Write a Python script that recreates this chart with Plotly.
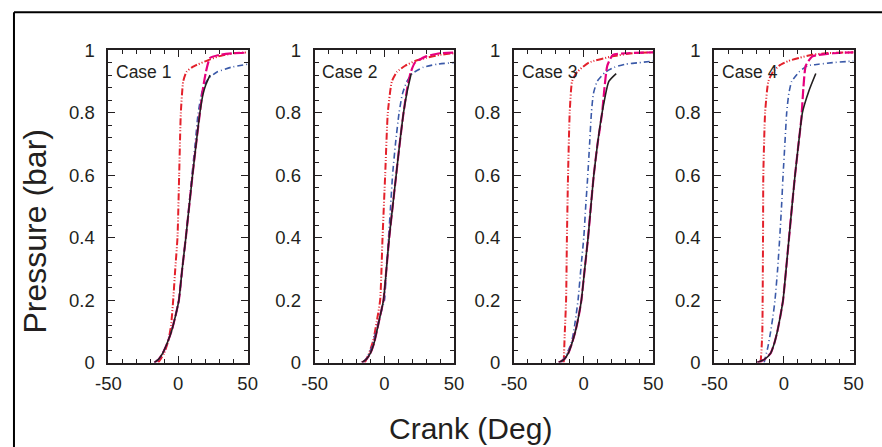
import plotly.graph_objects as go

# Figure size / offsets chosen so the photographed picture lines up with the reference
W, H = 898, 458
OFF = 8           # page body margin
SX, AX = 0.973, 3.9
SY, AY = 0.959, 1.0

cases = ["Case 1", "Case 2", "Case 3", "Case 4"]

# ---- Case 1 ----
c1_black_x = [-17, -14, -11, -8, -4.7, -1.8, 0.6, 3, 5.6, 8, 10.4, 13, 15.7, 18, 20, 23]
c1_black_y = [0, 0.01, 0.03, 0.06, 0.1, 0.15, 0.2, 0.3, 0.4, 0.5, 0.6, 0.7, 0.8, 0.86, 0.89, 0.92]
c1_blue_x = [-17, -14, -11, -8, -4.7, -1.8, 0.6, 3, 5.6, 7.8, 10, 12.3, 14.5, 18, 22, 28, 38, 50]
c1_blue_y = [0, 0.01, 0.03, 0.06, 0.1, 0.15, 0.2, 0.3, 0.4, 0.5, 0.6, 0.7, 0.8, 0.88, 0.91, 0.93, 0.945, 0.955]
c1_red_x = [-14.2, -10, -7, -5, -3.5, -2, -0.4, 0.8, 2, 3.7, 6, 10, 14.5, 20, 29, 40, 50]
c1_red_y = [0, 0.03, 0.07, 0.12, 0.2, 0.3, 0.4, 0.6, 0.8, 0.9, 0.93, 0.945, 0.955, 0.965, 0.98, 0.99, 0.993]
c1_mag_x = [-17, -14, -11, -8, -4.7, -1.8, 0.6, 3, 5.6, 8, 10.4, 13, 15.7, 18, 20, 23, 30, 40, 50]
c1_mag_y = [0, 0.01, 0.03, 0.06, 0.1, 0.15, 0.2, 0.3, 0.4, 0.5, 0.6, 0.7, 0.8, 0.88, 0.93, 0.975, 0.985, 0.99, 0.992]

# ---- Case 2 ----
c2_black_x = [-16.2, -13, -10, -7.5, -5.4, -3, -0.6, 1.5, 3.5, 6, 8.5, 11, 13.8, 16.5, 19.3]
c2_black_y = [0, 0.01, 0.03, 0.06, 0.1, 0.15, 0.2, 0.3, 0.4, 0.5, 0.6, 0.7, 0.8, 0.87, 0.925]
c2_blue_x = [-15, -12, -9, -6, -3, 0.1, 1.5, 3, 4.5, 5.9, 8, 10.6, 13, 16.2, 20, 28, 38, 50]
c2_blue_y = [0, 0.02, 0.05, 0.1, 0.15, 0.2, 0.3, 0.4, 0.5, 0.6, 0.7, 0.8, 0.86, 0.9, 0.925, 0.945, 0.955, 0.96]
c2_red_x = [-14, -11, -8, -5.5, -3, -1.3, 0.6, 2.5, 5.4, 9, 15, 22, 30, 40, 50]
c2_red_y = [0, 0.03, 0.07, 0.13, 0.2, 0.4, 0.6, 0.8, 0.9, 0.93, 0.95, 0.965, 0.975, 0.985, 0.99]
c2_mag_x = [-16.2, -13, -10, -7.5, -5.4, -3, -0.6, 1.5, 3.5, 6, 8.5, 11, 13.8, 16.5, 19, 22, 30, 40, 50]
c2_mag_y = [0, 0.01, 0.03, 0.06, 0.1, 0.15, 0.2, 0.3, 0.4, 0.5, 0.6, 0.7, 0.8, 0.88, 0.93, 0.96, 0.98, 0.99, 0.992]

# ---- Case 3 ----
c3_black_x = [-17.9, -14, -11, -8.5, -5.9, -3.5, -1.6, 0.8, 3.2, 5.2, 7.3, 10, 13.3, 18.1, 23.4]
c3_black_y = [0, 0.01, 0.03, 0.06, 0.1, 0.15, 0.2, 0.3, 0.4, 0.5, 0.6, 0.7, 0.8, 0.9, 0.925]
c3_blue_x = [-16, -12, -9, -7.1, -4, -2, 0.1, 1.5, 3, 4.3, 5.6, 7, 9.7, 15.7, 22, 30, 40, 50]
c3_blue_y = [0, 0.03, 0.06, 0.1, 0.2, 0.3, 0.4, 0.5, 0.6, 0.7, 0.8, 0.86, 0.9, 0.93, 0.945, 0.955, 0.96, 0.965]
c3_red_x = [-14.3, -13.5, -12.6, -12, -11.2, -10, -8.3, -4.7, 3.7, 20.5, 35, 50]
c3_red_y = [0, 0.1, 0.2, 0.4, 0.6, 0.8, 0.9, 0.93, 0.96, 0.98, 0.99, 0.993]
c3_mag_x = [-17.9, -14, -11, -8.5, -5.9, -3.5, -1.6, 0.8, 3.2, 5.2, 7.3, 10, 13.3, 15, 17, 21, 30, 50]
c3_mag_y = [0, 0.01, 0.03, 0.06, 0.1, 0.15, 0.2, 0.3, 0.4, 0.5, 0.6, 0.7, 0.8, 0.88, 0.95, 0.985, 0.99, 0.993]

# ---- Case 4 ----
c4_black_x = [-19.1, -14, -9.5, -7, -4.7, -2.5, -0.6, 1.6, 3.7, 5.8, 8, 10.5, 13.3, 18, 22.9]
c4_black_y = [0, 0.01, 0.03, 0.06, 0.1, 0.15, 0.2, 0.3, 0.4, 0.5, 0.6, 0.7, 0.8, 0.87, 0.925]
c4_blue_x = [-14.2, -11.5, -9.5, -7.8, -6.4, -4.5, -3, -1.7, -0.6, 0.7, 2, 3.5, 5.6, 10.9, 16.9, 25, 35, 50]
c4_blue_y = [0, 0.05, 0.1, 0.15, 0.2, 0.3, 0.4, 0.5, 0.6, 0.7, 0.8, 0.86, 0.9, 0.93, 0.95, 0.955, 0.96, 0.965]
c4_red_x = [-16.7, -16, -15.5, -15, -14.8, -13.5, -11.2, -8, -3.5, 3, 10.9, 20, 30, 50]
c4_red_y = [0, 0.05, 0.1, 0.4, 0.6, 0.8, 0.9, 0.93, 0.95, 0.965, 0.975, 0.985, 0.99, 0.993]
c4_mag_x = [-19.1, -14, -9.5, -7, -4.7, -2.5, -0.6, 1.6, 3.7, 5.8, 8, 10.5, 12.5, 14, 15.7, 20.5, 35, 50]
c4_mag_y = [0, 0.01, 0.03, 0.06, 0.1, 0.15, 0.2, 0.3, 0.4, 0.5, 0.6, 0.7, 0.78, 0.88, 0.95, 0.98, 0.99, 0.993]

data = [
    (c1_red_x, c1_red_y, c1_blue_x, c1_blue_y, c1_mag_x, c1_mag_y, c1_black_x, c1_black_y),
    (c2_red_x, c2_red_y, c2_blue_x, c2_blue_y, c2_mag_x, c2_mag_y, c2_black_x, c2_black_y),
    (c3_red_x, c3_red_y, c3_blue_x, c3_blue_y, c3_mag_x, c3_mag_y, c3_black_x, c3_black_y),
    (c4_red_x, c4_red_y, c4_blue_x, c4_blue_y, c4_mag_x, c4_mag_y, c4_black_x, c4_black_y),
]

x_ticks = [-50, 0, 50]
x_ticktext = ["-50", "0", "50"]
y_ticks = [0, 0.2, 0.4, 0.6, 0.8, 1]
y_ticktext = ["0", "0.2", "0.4", "0.6", "0.8", "1"]

# target picture-pixel layout
panel_left = [107, 313, 512, 712]
panel_width = 139
plot_top, plot_bottom = 48, 362


def fx(x):
    return ((x - AX) / SX - OFF)


def fy(y):
    return ((y - AY) / SY - OFF)


def px(x):
    return fx(x) / W


def py(y):
    return 1 - fy(y) / H


FONT = "Liberation Sans, Arial, sans-serif"
INK = "#231f20"

fig = go.Figure()
layout = dict(
    width=W, height=H,
    margin=dict(l=0, r=0, t=0, b=0),
    paper_bgcolor="white", plot_bgcolor="white",
    showlegend=False,
    font=dict(family=FONT, color=INK),
)

styles = [
    dict(color="#e3212b", width=2, dash="7px,2px,1px,2px,1px,2px", shape="spline", smoothing=0.5),
    dict(color="#3a59a8", width=1.6, dash="6px,3px,1px,3px", shape="spline", smoothing=0.5),
    dict(color="#e6007e", width=2.2, dash="10px,3px", shape="spline", smoothing=0.5),
    dict(color=INK, width=1.6, dash="solid", shape="spline", smoothing=0.5),
]

annotations = []
for i, (case, series) in enumerate(zip(cases, data)):
    n = "" if i == 0 else str(i + 1)
    xa, ya = "x" + n, "y" + n
    for k in range(4):
        fig.add_trace(go.Scatter(
            x=series[2 * k], y=series[2 * k + 1], mode="lines",
            line=styles[k], xaxis=xa, yaxis=ya, hoverinfo="skip",
        ))
    common = dict(
        showline=True, linecolor=INK, linewidth=2, mirror="ticks",
        ticks="inside", tickcolor=INK, tickwidth=1.3,
        showgrid=False, zeroline=False,
        tickfont=dict(family=FONT, size=18.5, color=INK),
    )
    layout["xaxis" + n] = dict(
        common, domain=[px(panel_left[i]), px(panel_left[i] + panel_width)],
        range=[-50, 50], anchor=ya,
        tickvals=x_ticks, ticktext=x_ticktext, ticklen=7, ticklabelstandoff=3,
        minor=dict(dtick=10, ticklen=4, ticks="inside", tickcolor=INK, tickwidth=1.3),
    )
    layout["yaxis" + n] = dict(
        common, domain=[py(plot_bottom), py(plot_top)], range=[0, 1], anchor=xa,
        tickvals=y_ticks, ticktext=y_ticktext, ticklen=7, ticklabelstandoff=8,
        minor=dict(dtick=0.04, tick0=0, ticklen=4, ticks="inside", tickcolor=INK, tickwidth=1.3),
    )
    annotations.append(dict(
        text=case, x=-46, y=0.93, xref=xa, yref=ya, xanchor="left", yanchor="middle",
        showarrow=False, font=dict(family=FONT, size=17.5, color=INK),
    ))

annotations.append(dict(
    text="Pressure (bar)", x=px(34), y=py(230), xref="paper", yref="paper",
    textangle=-90, showarrow=False, xanchor="center", yanchor="middle",
    font=dict(family=FONT, size=32, color=INK),
))
annotations.append(dict(
    text="Crank (Deg)", x=px(469), y=py(428), xref="paper", yref="paper",
    showarrow=False, xanchor="center", yanchor="middle",
    font=dict(family=FONT, size=30, color=INK),
))
layout["annotations"] = annotations
layout["shapes"] = [
    dict(type="line", xref="paper", yref="paper", x0=1 / W, x1=1.01, y0=py(10), y1=py(10),
         line=dict(color="black", width=2)),
    dict(type="line", xref="paper", yref="paper", x0=1 / W, x1=1 / W, y0=py(10), y1=-0.01,
         line=dict(color="black", width=2)),
]

fig.update_layout(**layout)
fig.write_html("out.html")
